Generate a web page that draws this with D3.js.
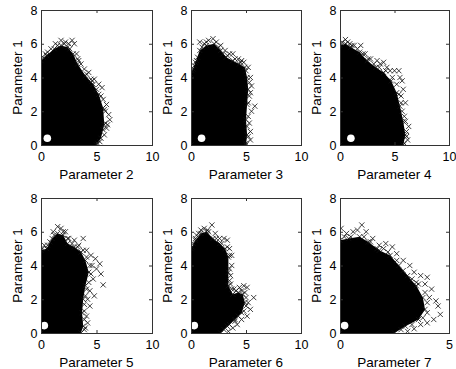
<!DOCTYPE html>
<html>
<head>
<meta charset="utf-8">
<script src="https://cdn.jsdelivr.net/npm/d3@7"></script>
<style>
  body { margin: 0; background: #fff; }
  svg text { font-family: "Liberation Sans", Arial, sans-serif; fill: #000; }
</style>
</head>
<body>
<div id="chart"></div>
<script>
// Axis labels / ranges for each panel (y is always Parameter 1)
const xLabels = ["Parameter 2", "Parameter 3", "Parameter 4", "Parameter 5", "Parameter 6", "Parameter 7"];
const xMax = [10, 10, 10, 10, 10, 5];
const xTicks = [[0, 5, 10], [0, 5, 10], [0, 5, 10], [0, 5, 10], [0, 5, 10], [0, 5]];
const yTicks = [0, 2, 4, 6, 8];

// White start point in each panel
const startPoints = [[0.57, 0.4], [0.96, 0.4], [1.0, 0.4], [0.3, 0.44], [0.3, 0.44], [0.21, 0.44]];

// Outline of the saturated (solid black) cloud
const core2 = [[0,0],[0,5.0],[0.5,5.3],[1.2,5.7],[1.8,5.9],[2.4,5.8],[2.9,5.4],[3.3,4.8],[4.0,4.1],[4.7,3.6],[5.2,3.0],[5.6,2.2],[5.7,1.2],[5.4,0.4],[5.0,0]];
const core3 = [[0,0],[0,4.2],[0.4,4.9],[0.8,5.6],[1.4,5.9],[2.1,6.0],[2.7,5.6],[3.2,5.2],[3.8,5.0],[4.4,4.8],[4.9,4.6],[5.1,4.0],[5.2,3.3],[5.1,2.4],[5.0,1.5],[5.1,0.6],[5.0,0]];
const core4 = [[0,0],[0,5.9],[0.5,6.0],[1.0,5.8],[1.8,5.5],[2.5,5.0],[3.3,4.6],[4.0,4.3],[4.7,3.8],[5.2,3.1],[5.5,2.3],[5.8,1.4],[6.0,0.6],[5.8,0]];
const core5 = [[0,0],[0,4.9],[0.5,5.0],[1.0,5.6],[1.5,5.9],[2.0,5.8],[2.4,5.3],[3.0,5.1],[3.6,4.8],[4.0,4.3],[4.3,3.6],[4.0,2.8],[3.8,2.0],[3.7,1.2],[3.8,0.4],[3.6,0]];
const core6 = [[0,0],[0,5.0],[0.4,5.5],[0.9,5.9],[1.4,6.0],[2.0,5.6],[2.6,5.3],[3.1,5.0],[3.4,4.5],[3.4,3.6],[3.4,2.8],[3.8,2.3],[4.3,2.4],[4.7,2.3],[4.9,1.8],[4.6,1.2],[4.0,0.8],[3.3,0.4],[2.7,0]];
const core7 = [[0,0],[0,5.5],[0.4,5.6],[0.9,5.7],[1.3,5.4],[1.8,4.9],[2.3,4.6],[2.7,4.0],[3.1,3.4],[3.5,2.8],[3.8,2.1],[3.9,1.4],[3.6,0.8],[3.0,0.4],[2.5,0]];

// Individual samples visible around the edge of each cloud
const edge2 = [[1.8,6.2],[2.2,6.1],[2.8,6.2],[3.0,6.0],[1.3,6.0],[0.6,5.5],[0.2,5.2],[3.2,5.4],[3.6,4.8],[4.3,4.3],[4.8,3.9],[5.2,3.6],[5.5,3.4],[5.6,2.7],[5.9,2.4],[6.1,1.8],[6.2,1.5],[5.9,1.0],[5.7,0.6],[5.3,0.2],[4.6,3.8],[3.9,4.5],[2.5,6.0],[5.8,2.0],[6.0,1.2],
  [0.9,5.7],[1.5,5.9],[2.6,5.7],[3.4,5.0],[4.1,4.2],[4.5,3.9],[5.0,3.3],[5.4,2.9],[5.7,2.1],[5.8,1.3],[5.6,0.9],[5.1,0.1],[2.1,6.0],[3.3,5.1],[0.4,5.4]];
const edge3 = [[0.1,4.4],[0.3,4.7],[0.6,5.2],[0.8,6.1],[1.2,6.0],[1.6,6.2],[2.0,6.3],[2.3,6.1],[2.7,5.9],[3.1,5.6],[3.5,5.4],[3.8,5.4],[4.3,5.1],[4.8,4.9],[5.2,4.6],[5.4,4.0],[5.5,3.5],[5.3,2.9],[5.8,2.3],[5.5,2.0],[5.3,1.3],[5.4,0.8],[5.4,0.3],[4.6,5.0],
  [0.2,4.5],[0.5,5.0],[1.0,5.8],[1.4,6.1],[2.5,5.8],[2.9,5.4],[3.3,5.3],[4.0,5.1],[4.5,4.9],[5.0,4.4],[5.3,3.7],[5.4,3.1],[5.2,2.5],[5.2,1.7],[5.1,1.1],[5.2,0.5],[5.0,0.1]];
const edge4 = [[0.2,6.1],[0.5,6.25],[0.9,6.0],[1.3,5.9],[1.9,5.9],[2.3,5.4],[2.8,5.1],[3.4,5.0],[4.0,4.9],[4.6,4.4],[5.0,4.4],[5.4,4.4],[5.5,4.0],[5.7,3.8],[5.8,3.3],[5.6,2.9],[6.0,2.5],[5.7,2.0],[6.3,1.1],[6.1,0.8],[6.2,0.3],[4.3,4.6],[3.7,4.8],
  [0.7,6.1],[1.1,5.9],[1.6,5.7],[2.1,5.4],[2.6,5.1],[3.1,4.8],[3.6,4.6],[4.2,4.4],[4.8,4.0],[5.2,3.6],[5.4,3.0],[5.6,2.5],[5.9,1.7],[6.0,1.4],[6.1,0.5],[5.9,0.1]];
const edge5 = [[0.3,5.2],[0.8,5.4],[1.1,6.0],[1.5,6.3],[1.8,6.2],[2.2,6.0],[2.5,5.6],[3.0,5.5],[3.8,5.6],[3.4,5.2],[4.1,4.9],[4.5,4.6],[4.9,4.4],[5.3,4.1],[5.0,3.8],[5.4,3.5],[4.7,3.2],[5.6,2.85],[4.8,2.2],[4.4,2.5],[4.4,1.6],[4.1,1.0],[4.2,0.6],[4.0,0.3],[4.6,4.0],[4.2,2.0],
  [0.1,5.0],[0.6,5.2],[1.2,5.8],[2.0,6.0],[2.4,5.6],[2.8,5.3],[3.3,5.1],[3.8,4.9],[4.1,4.5],[4.4,4.0],[4.5,3.5],[4.3,3.0],[4.1,2.6],[4.0,2.2],[3.9,1.7],[3.9,1.3],[3.9,0.8],[3.9,0.2]];
const edge6 = [[0.2,5.3],[0.5,5.8],[0.9,6.1],[1.2,6.2],[1.5,6.1],[1.9,6.4],[2.2,5.9],[2.6,5.6],[3.0,5.6],[3.3,5.5],[3.5,5.0],[3.7,4.6],[3.7,4.0],[3.6,3.4],[3.6,2.9],[3.9,2.6],[4.4,2.7],[4.8,2.8],[5.1,2.7],[5.7,2.1],[5.2,1.8],[5.4,1.4],[5.1,1.0],[4.6,0.8],[4.2,0.5],[3.8,0.3],[3.4,0.1],[4.9,2.4],
  [0.1,5.1],[0.4,5.6],[0.7,5.9],[1.6,6.0],[2.3,5.6],[2.8,5.3],[3.3,5.1],[3.5,4.6],[3.5,3.8],[3.5,3.1],[3.7,2.6],[4.1,2.5],[4.6,2.5],[5.0,2.1],[5.0,1.6],[4.8,1.3],[4.3,1.0],[4.0,0.7],[3.5,0.5],[3.0,0.2]];
const edge7 = [[0.05,6.2],[0.3,5.9],[0.6,6.0],[0.8,6.1],[1.0,6.4],[1.2,6.0],[1.5,5.6],[1.8,5.2],[2.1,5.3],[2.4,5.1],[2.6,4.7],[2.9,4.3],[3.2,4.0],[3.4,3.6],[3.7,3.4],[4.0,3.3],[3.9,2.9],[4.2,2.6],[4.1,2.1],[4.4,1.9],[4.5,1.6],[4.6,1.1],[4.3,0.8],[4.0,0.6],[3.7,0.5],[3.4,0.25],[3.1,0.1],[2.0,5.0],[3.5,3.0],
  [0.2,5.7],[0.5,5.7],[1.1,5.7],[1.4,5.4],[1.7,5.0],[2.2,4.8],[2.6,4.3],[2.9,3.7],[3.3,3.2],[3.6,2.9],[3.9,2.4],[4.0,1.8],[4.0,1.2],[3.8,0.9],[3.3,0.5],[2.8,0.2]];

const cores = [core2, core3, core4, core5, core6, core7];
const edges = [edge2, edge3, edge4, edge5, edge6, edge7];

// Panel layout (pixels)
const colLeft = [41, 191, 340];
const colRight = [152, 301, 449];
const rowTop = [10, 198];
const rowBottom = [145, 333];

const svg = d3.select("#chart")
  .append("svg")
  .attr("width", 456)
  .attr("height", 369);

const cross = "M-2.6,-2.6L2.6,2.6M-2.6,2.6L2.6,-2.6";

xLabels.forEach((label, i) => {
  const col = i % 3, row = Math.floor(i / 3);
  const left = colLeft[col], top = rowTop[row];
  const w = colRight[col] - left, h = rowBottom[row] - top;

  const x = d3.scaleLinear().domain([0, xMax[i]]).range([0, w]);
  const y = d3.scaleLinear().domain([0, 8]).range([h, 0]);

  const g = svg.append("g").attr("transform", `translate(${left},${top})`);

  g.append("clipPath").attr("id", "clip" + i)
    .append("rect").attr("width", w).attr("height", h);

  const plot = g.append("g").attr("clip-path", `url(#clip${i})`);

  // dense part of the cloud
  plot.append("path")
    .datum(cores[i])
    .attr("d", d3.line().x(d => x(d[0])).y(d => y(d[1])).curve(d3.curveLinearClosed))
    .attr("fill", "#000");

  // loose samples along the edge
  plot.selectAll(".pt")
    .data(edges[i].concat(cores[i]))
    .enter()
    .append("path")
    .attr("class", "pt")
    .attr("transform", d => `translate(${x(d[0])},${y(d[1])})`)
    .attr("d", cross)
    .attr("fill", "none")
    .attr("stroke", "#111")
    .attr("stroke-width", 0.8);

  // start point
  plot.append("circle")
    .attr("cx", x(startPoints[i][0]))
    .attr("cy", y(startPoints[i][1]))
    .attr("r", 3.8)
    .attr("fill", "#fff");

  // axes with inward ticks
  g.append("g")
    .attr("transform", `translate(0,${h})`)
    .call(d3.axisBottom(x).tickValues(xTicks[i]).tickFormat(d3.format("d"))
      .tickSizeInner(-3).tickSizeOuter(0).tickPadding(7));
  g.append("g")
    .call(d3.axisLeft(y).tickValues(yTicks).tickFormat(d3.format("d"))
      .tickSizeInner(-3).tickSizeOuter(0).tickPadding(3.5));
  g.append("g")
    .call(d3.axisTop(x).tickValues(xTicks[i]).tickSizeInner(-3).tickSizeOuter(0).tickFormat(""));
  g.append("g")
    .attr("transform", `translate(${w},0)`)
    .call(d3.axisRight(y).tickValues(yTicks).tickSizeInner(-3).tickSizeOuter(0).tickFormat(""));

  g.selectAll(".domain").remove();
  g.selectAll(".tick line").attr("stroke", "#333");
  g.selectAll(".tick text").attr("font-size", 12.5).attr("font-family", null);

  g.append("rect")
    .attr("x", 0.5).attr("y", 0.5)
    .attr("width", w).attr("height", h)
    .attr("fill", "none")
    .attr("stroke", "#333")
    .attr("stroke-width", 1);

  // labels
  g.append("text")
    .attr("x", w / 2)
    .attr("y", h + 34)
    .attr("text-anchor", "middle")
    .attr("font-size", 13.5)
    .text(label);

  g.append("text")
    .attr("transform", `translate(-19,${h / 2}) rotate(-90)`)
    .attr("text-anchor", "middle")
    .attr("font-size", 13.5)
    .text("Parameter 1");
});
</script>
</body>
</html>
